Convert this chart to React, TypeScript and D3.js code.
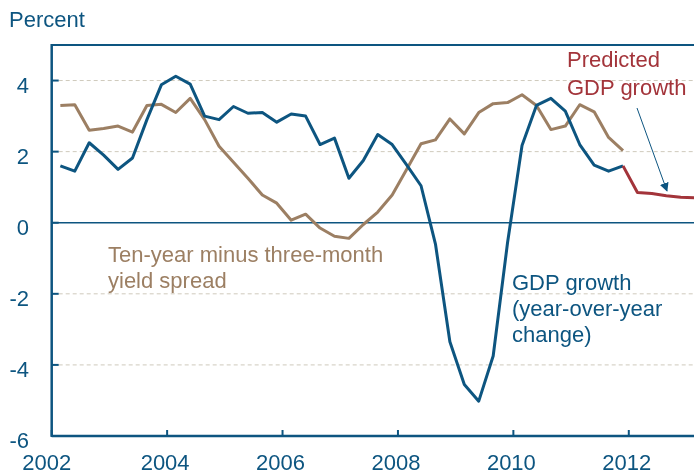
import React from "react";
import * as d3 from "d3";

const START = 2002.15;
const gdpGrowth = [
  1.6, 1.45, 2.25, 1.9, 1.5, 1.82, 2.9, 3.88, 4.12, 3.9,
  3.0, 2.9, 3.27, 3.08, 3.1, 2.83, 3.06, 3.0, 2.2, 2.38,
  1.25, 1.75, 2.48, 2.2, 1.63, 1.04, -0.6, -3.35, -4.55, -5.02,
  -3.75, -0.55, 2.17, 3.3, 3.5, 3.14, 2.2, 1.62, 1.45, 1.6,
];
const yieldSpread = [
  3.3, 3.32, 2.6, 2.65, 2.72, 2.55, 3.3, 3.33, 3.1, 3.5,
  2.9, 2.15, 1.7, 1.25, 0.78, 0.55, 0.07, 0.24, -0.15, -0.38,
  -0.44, -0.05, 0.3, 0.78, 1.5, 2.22, 2.33, 2.92, 2.5, 3.1,
  3.35, 3.38, 3.6, 3.3, 2.62, 2.72, 3.32, 3.12, 2.4, 2.03,
];
const predicted = [1.6, 0.85, 0.82, 0.76, 0.72, 0.7];
const xTicks = [2002, 2004, 2006, 2008, 2010, 2012];
const yTicks = [-6, -4, -2, 0, 2, 4];
const gridValues = [-4, -2, 2, 4];

const W = 694;
const H = 474;
const BLUE = "#0d5580";
const BROWN = "#9c7f63";
const RED = "#a3343a";
const FONT = "'Liberation Sans', Arial, sans-serif";
const FS = 22;

export default function App() {
  const x = d3.scaleLinear().domain([2002, 2013.13]).range([51.7, 694]);
  const y = d3.scaleLinear().domain([-6, 5]).range([436, 45]);
  const t = (i: number) => START + 0.25 * i;
  const line = d3
    .line<[number, number]>()
    .x((d) => x(d[0]))
    .y((d) => y(d[1]));
  const gdpPts = gdpGrowth.map((v, i) => [t(i), v] as [number, number]);
  const sprPts = yieldSpread.map((v, i) => [t(i), v] as [number, number]);
  const predPts = predicted.map(
    (v, i) => [t(gdpGrowth.length - 1 + i), v] as [number, number]
  );
  const x0 = x(2002);
  const x1 = W;

  return (
    <div style={{ position: "fixed", left: 0, top: 0 }}>
      <svg width={W} height={H} style={{ display: "block", fontFamily: FONT }}>
        <defs>
          <marker
            id="arrow"
            viewBox="0 0 10 10"
            refX="9"
            refY="5"
            markerWidth="9"
            markerHeight="9"
            orient="auto"
            markerUnits="userSpaceOnUse"
          >
            <path d="M0,0 L10,5 L0,10 Z" fill={BLUE} />
          </marker>
        </defs>
        {gridValues.map((v) => (
          <line
            key={v}
            x1={x0}
            x2={x1}
            y1={y(v)}
            y2={y(v)}
            stroke="#cfcabc"
            strokeWidth={1}
            strokeDasharray="4,3"
          />
        ))}
        <line x1={x0} x2={x1} y1={y(0)} y2={y(0)} stroke={BLUE} strokeWidth={1.5} />
        <path d={line(sprPts) || ""} fill="none" stroke={BROWN} strokeWidth={3} strokeLinejoin="round" />
        <path d={line(gdpPts) || ""} fill="none" stroke={BLUE} strokeWidth={3} strokeLinejoin="round" />
        <path d={line(predPts) || ""} fill="none" stroke={RED} strokeWidth={3} strokeLinejoin="round" />
        {/* axes */}
        <line x1={x0} x2={x1} y1={y(5)} y2={y(5)} stroke={BLUE} strokeWidth={2} />
        <line x1={x0} x2={x0} y1={y(5) - 1} y2={y(-6) + 1} stroke={BLUE} strokeWidth={2.5} />
        <line x1={x0} x2={x1} y1={y(-6)} y2={y(-6)} stroke={BLUE} strokeWidth={2.5} />
        {yTicks.map((v) => (
          <g key={v}>
            <line x1={x0} x2={x0 + 7} y1={y(v)} y2={y(v)} stroke={BLUE} strokeWidth={2} />
            <text x={29} y={y(v) + 12} textAnchor="end" fontSize={FS} fill={BLUE}>
              {v}
            </text>
          </g>
        ))}
        {xTicks.map((v) => (
          <g key={v}>
            <line x1={x(v)} x2={x(v)} y1={y(-6)} y2={y(-6) - 6} stroke={BLUE} strokeWidth={2} />
            <text x={x(v) - (v === 2002 ? 5 : 2)} y={470} textAnchor="middle" fontSize={FS} fill={BLUE}>
              {v}
            </text>
          </g>
        ))}
        <text x={9} y={27} fontSize={FS} fill={BLUE}>
          Percent
        </text>
        <text x={108} y={262} fontSize={FS} fill={BROWN}>
          Ten-year minus three-month
        </text>
        <text x={108} y={288} fontSize={FS} fill={BROWN}>
          yield spread
        </text>
        <text x={512} y={290} fontSize={FS} fill={BLUE}>
          GDP growth
        </text>
        <text x={512} y={316} fontSize={FS} fill={BLUE}>
          (year-over-year
        </text>
        <text x={512} y={342} fontSize={FS} fill={BLUE}>
          change)
        </text>
        <text x={567} y={67} fontSize={FS} fill={RED}>
          Predicted
        </text>
        <text x={567} y={95} fontSize={FS} fill={RED}>
          GDP growth
        </text>
        <line
          x1={637}
          y1={108}
          x2={667}
          y2={191}
          stroke={BLUE}
          strokeWidth={1}
          markerEnd="url(#arrow)"
        />
      </svg>
    </div>
  );
}
